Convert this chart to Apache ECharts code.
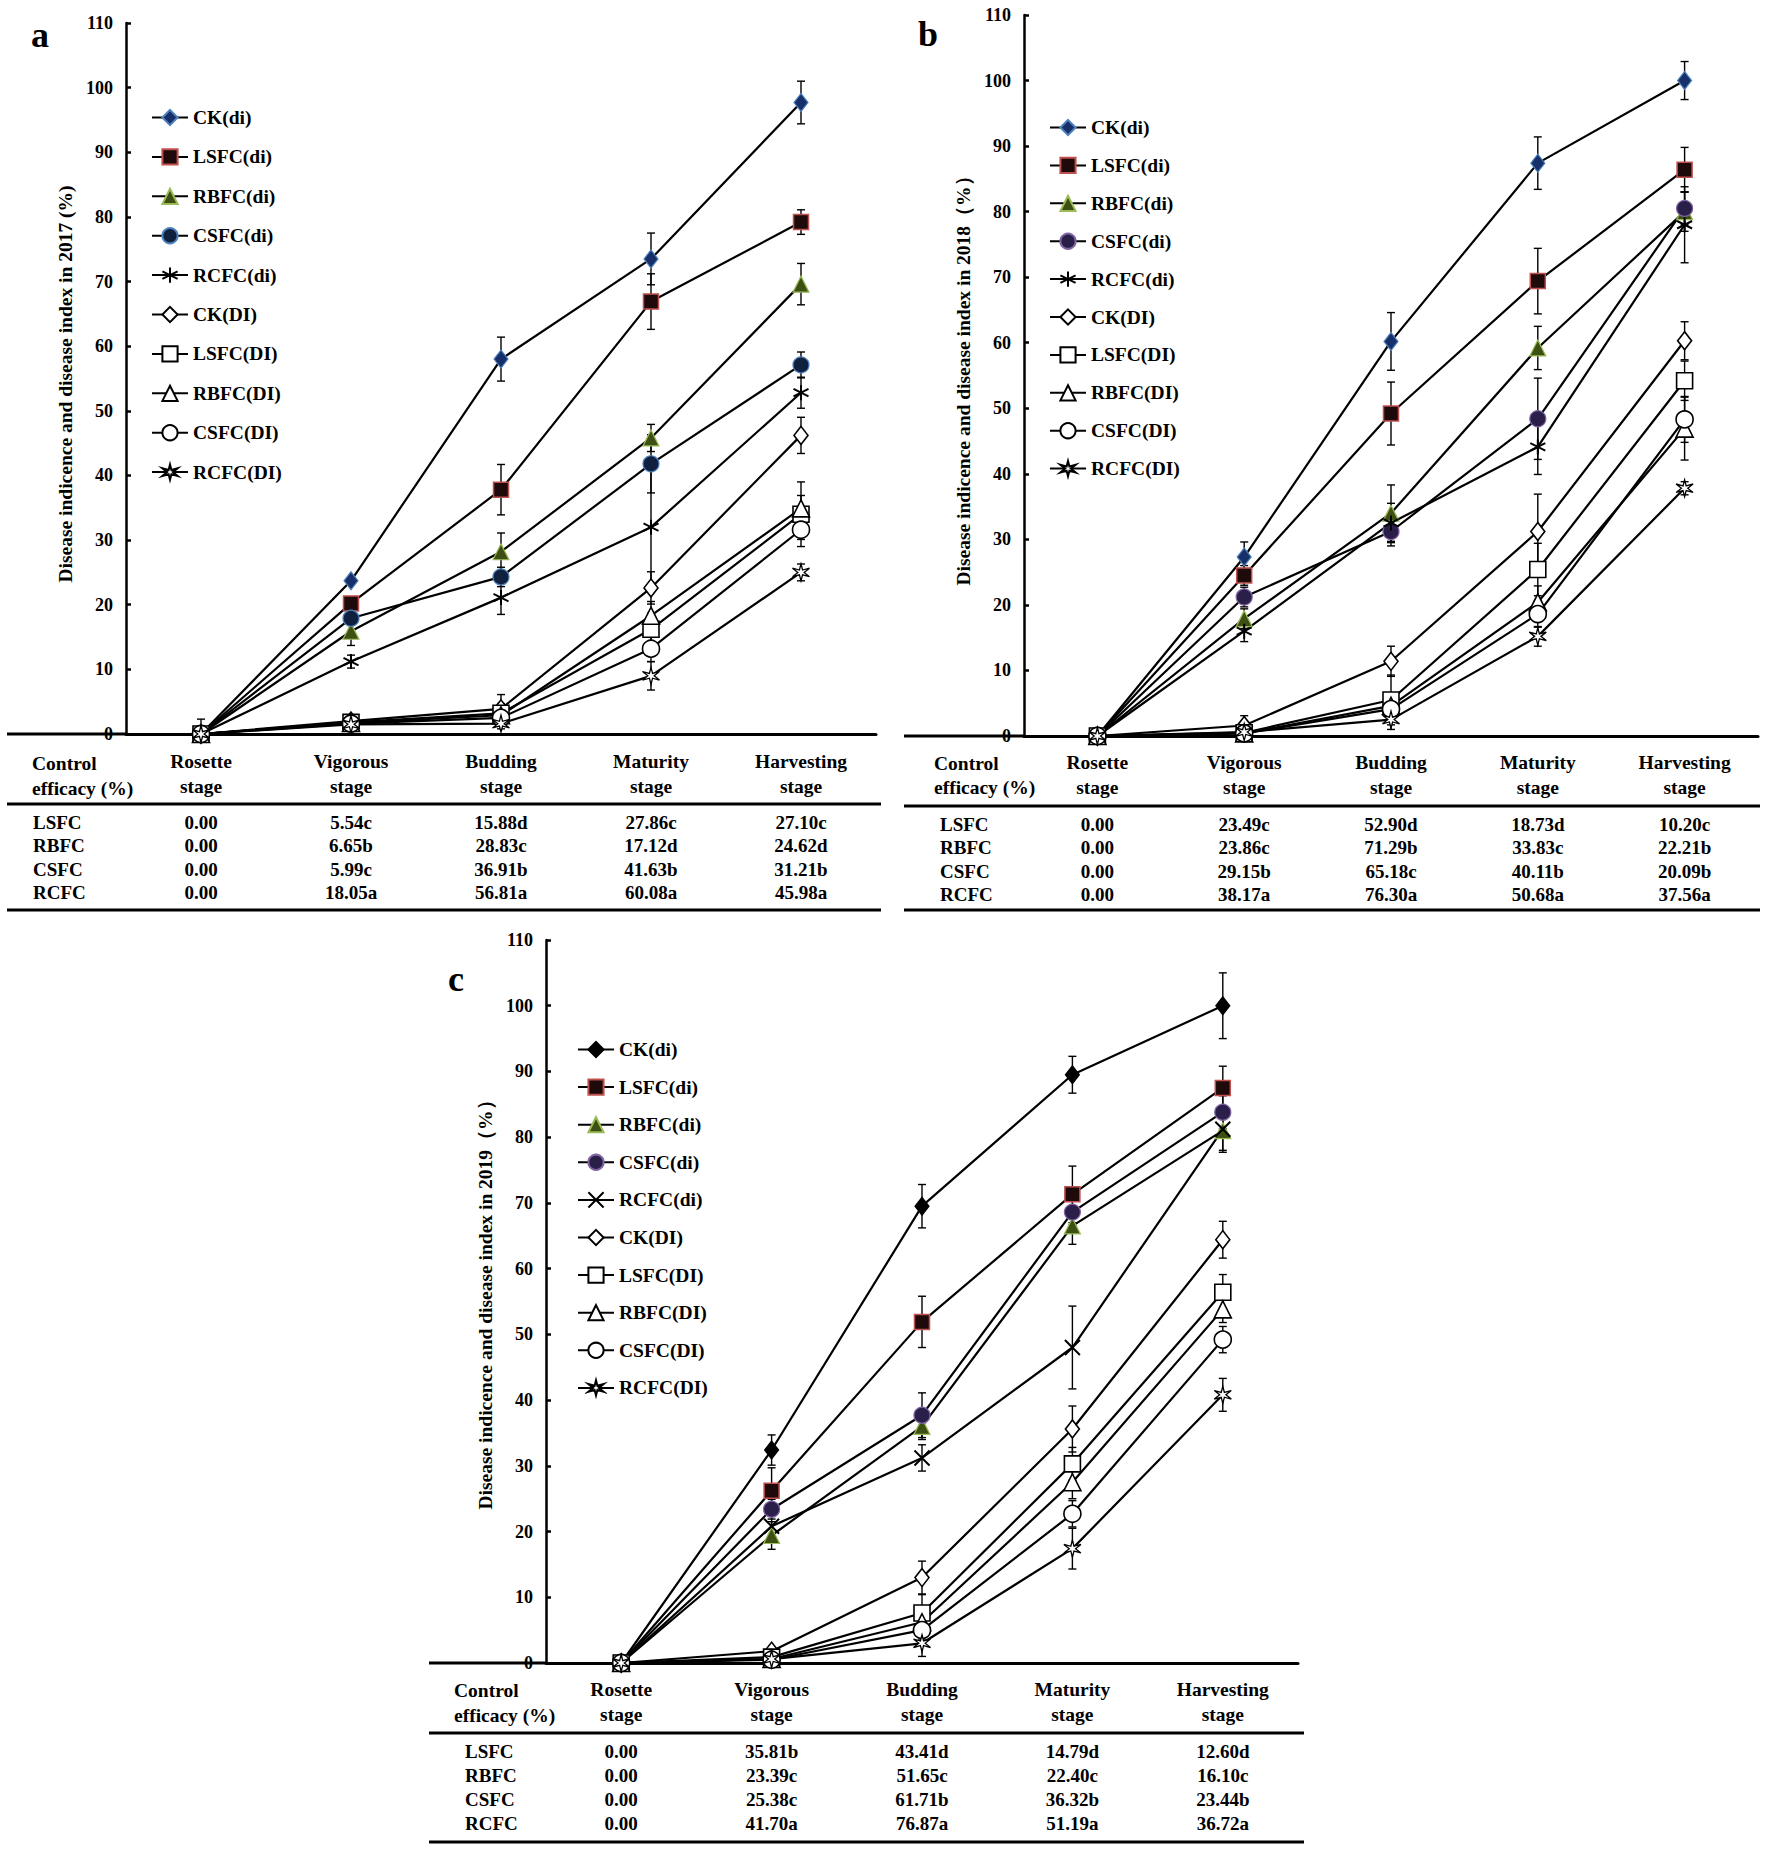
<!DOCTYPE html>
<html><head><meta charset="utf-8">
<script src="https://cdn.jsdelivr.net/npm/echarts@6.0.0/dist/echarts.min.js"></script>
<style>html,body{margin:0;padding:0;background:#fff}#chart{width:1770px;height:1849px}</style>
</head><body><div id="chart"></div>
<script>
// ---------------- data ----------------
const stages = ['Rosette\nstage', 'Vigorous\nstage', 'Budding\nstage', 'Maturity\nstage', 'Harvesting\nstage'];
const seriesNames = ['CK(di)', 'LSFC(di)', 'RBFC(di)', 'CSFC(di)', 'RCFC(di)', 'CK(DI)', 'LSFC(DI)', 'RBFC(DI)', 'CSFC(DI)', 'RCFC(DI)'];
const yMin = 0, yMax = 110, yStep = 10;

const values2017 = [
  [0, 23.7, 58.0, 73.5, 97.7],
  [0, 20.2, 37.8, 66.9, 79.2],
  [0, 15.9, 28.2, 45.8, 69.6],
  [0, 17.9, 24.3, 41.8, 57.1],
  [0, 11.2, 21.1, 32.0, 52.8],
  [0, 2.0, 3.9, 22.6, 46.2],
  [0, 1.8, 3.2, 16.2, 34.0],
  [0, 1.7, 2.9, 18.3, 34.9],
  [0, 1.6, 2.5, 13.2, 31.6],
  [0, 1.5, 1.6, 9.0, 25.0]
];
const errors2017 = [
  [0, 0.6, 3.4, 4.0, 3.3],
  [0, 0.8, 3.9, 4.3, 1.9],
  [0, 2.2, 2.9, 2.1, 3.2],
  [0, 1.0, 1.5, 4.5, 2.0],
  [0, 1.0, 2.6, 9.5, 2.4],
  [2.3, 0.5, 2.2, 2.5, 2.8],
  [0, 0.5, 1.5, 2.5, 5.0],
  [0, 0.4, 1.2, 2.2, 2.0],
  [0, 0.4, 1.0, 2.0, 1.5],
  [0, 0.4, 0.8, 2.2, 1.3]
];
const values2018 = [
  [0, 27.3, 60.2, 87.4, 100.0],
  [0, 24.5, 49.2, 69.4, 86.4],
  [0, 17.9, 34.0, 59.2, 80.0],
  [0, 21.2, 31.2, 48.4, 80.5],
  [0, 16.0, 32.5, 44.1, 78.0],
  [0, 1.6, 11.4, 31.2, 60.3],
  [0, 0.5, 5.5, 25.4, 54.2],
  [0, 0.4, 4.6, 20.4, 46.9],
  [0, 0.4, 4.1, 18.6, 48.3],
  [0, 0.6, 2.5, 15.2, 37.8]
];
const errors2018 = [
  [0, 2.3, 4.4, 4.0, 2.9],
  [0, 1.5, 4.8, 5.0, 3.4],
  [0, 1.5, 4.3, 3.3, 3.0],
  [0, 1.5, 2.2, 6.2, 2.5],
  [0, 1.6, 3.0, 4.2, 5.8],
  [0, 1.5, 2.3, 5.7, 2.9],
  [0, 0.5, 3.8, 4.0, 3.0],
  [0, 0.5, 2.0, 2.5, 4.8],
  [0, 0.5, 1.5, 2.0, 3.5],
  [0, 0.5, 1.5, 1.5, 1.0]
];
const values2019 = [
  [0, 32.4, 69.5, 89.5, 100.0],
  [0, 26.2, 51.9, 71.3, 87.5],
  [0, 19.4, 36.0, 66.5, 81.0],
  [0, 23.4, 37.7, 68.6, 83.8],
  [0, 20.8, 31.2, 48.0, 81.2],
  [0, 1.8, 13.0, 35.6, 64.4],
  [0, 0.9, 7.6, 30.3, 56.4],
  [0, 0.6, 6.2, 27.5, 53.8],
  [0, 0.5, 5.0, 22.7, 49.2],
  [0, 0.6, 3.0, 17.4, 40.8]
];
const errors2019 = [
  [0, 2.3, 3.3, 2.8, 5.0],
  [0, 3.5, 3.9, 4.3, 3.3],
  [0, 2.1, 2.0, 2.8, 3.0],
  [0, 1.5, 3.4, 2.0, 2.5],
  [0, 1.5, 2.0, 6.3, 3.5],
  [0, 0.5, 2.5, 3.5, 2.8],
  [0, 0.4, 2.8, 2.5, 2.7],
  [0, 0.3, 2.0, 2.5, 2.0],
  [0, 0.3, 1.5, 2.0, 2.0],
  [0, 0.4, 2.0, 3.1, 2.5]
];

const efficacyHeader = ['Control', 'efficacy (%)'];
const efficacyRows = ['LSFC', 'RBFC', 'CSFC', 'RCFC'];
const efficacy2017 = [
  ['0.00', '5.54c', '15.88d', '27.86c', '27.10c'],
  ['0.00', '6.65b', '28.83c', '17.12d', '24.62d'],
  ['0.00', '5.99c', '36.91b', '41.63b', '31.21b'],
  ['0.00', '18.05a', '56.81a', '60.08a', '45.98a']
];
const efficacy2018 = [
  ['0.00', '23.49c', '52.90d', '18.73d', '10.20c'],
  ['0.00', '23.86c', '71.29b', '33.83c', '22.21b'],
  ['0.00', '29.15b', '65.18c', '40.11b', '20.09b'],
  ['0.00', '38.17a', '76.30a', '50.68a', '37.56a']
];
const efficacy2019 = [
  ['0.00', '35.81b', '43.41d', '14.79d', '12.60d'],
  ['0.00', '23.39c', '51.65c', '22.40c', '16.10c'],
  ['0.00', '25.38c', '61.71b', '36.32b', '23.44b'],
  ['0.00', '41.70a', '76.87a', '51.19a', '36.72a']
];
const yTitles = [
  'Disease indicence and disease index in 2017 (%)',
  'Disease indicence and disease index in 2018\uFF08%\uFF09',
  'Disease indicence and disease index in 2019\uFF08%\uFF09'
];
const panelLetters = ['a', 'b', 'c'];

// ---------------- styles / layout ----------------
const FONT = '"Liberation Serif","Times New Roman",serif';
const TXT = 19.5;
const ASTER = 'path://M5,0L5,10M0.7,2.5L9.3,7.5M0.7,7.5L9.3,2.5';
const XMARK = 'path://M0,0L10,10M0,10L10,0';
const STAR = 'path://M5,0L5.8,3.6L9.3,2.5L6.6,5L9.3,7.5L5.8,6.4L5,10L4.2,6.4L0.7,7.5L3.4,5L0.7,2.5L4.2,3.6Z';

function markerStyles(p) {
  const ck = p === 2 ? ['#000', '#000'] : ['#17306a', '#4F81BD'];
  const cs = p === 0 ? ['#10213F', '#4F81BD'] : ['#2a1f48', '#8064A2'];
  return [
    { symbol: 'diamond', size: [14, 18], fill: ck[0], border: ck[1], bw: 1.2 },
    { symbol: 'rect', size: 15, fill: '#1e0a0a', border: '#C0504D', bw: 1.5 },
    { symbol: 'triangle', size: 16, fill: '#3E4F14', border: '#9BBB59', bw: 1.2 },
    { symbol: 'circle', size: 16, fill: cs[0], border: cs[1], bw: 1.2 },
    { symbol: p === 2 ? XMARK : ASTER, size: 15, fill: '#000', border: '#000', bw: 2 },
    { symbol: 'diamond', size: [14, 18], fill: '#fff', border: '#000', bw: 1.6 },
    { symbol: 'rect', size: 16, fill: '#fff', border: '#000', bw: 1.6 },
    { symbol: 'triangle', size: 17, fill: '#fff', border: '#000', bw: 1.6 },
    { symbol: 'circle', size: 17, fill: '#fff', border: '#000', bw: 1.6 },
    { symbol: STAR, size: 17, fill: '#fff', border: '#000', bw: 1.3 }
  ];
}

const panels = [
  { values: values2017, errors: errors2017, eff: efficacy2017,
    grid: { left: 126, top: 23, width: 750, height: 711 },
    letter: [40, 34.5], title: [65, 384],
    legend: { left: 151, top: 107.5, gap: 19.4 }, labelMargin: 15,
    table: { x0: 7, x1: 881, ctrlX: 32, rowX: 33, hdrY: [763, 788], thick: 804, rows: [822, 845.5, 869, 892], bottom: 910 } },
  { values: values2018, errors: errors2018, eff: efficacy2018,
    grid: { left: 1024, top: 15, width: 734, height: 721 },
    letter: [928, 33.5], title: [963, 376],
    legend: { left: 1049, top: 117.5, gap: 17.9 }, labelMargin: 14,
    table: { x0: 904, x1: 1760, ctrlX: 934, rowX: 940, hdrY: [763, 787], thick: 806, rows: [824.5, 847.5, 871, 894.5], bottom: 910 } },
  { values: values2019, errors: errors2019, eff: efficacy2019,
    grid: { left: 546, top: 940, width: 752, height: 723 },
    letter: [456, 978.5], title: [485, 1300],
    legend: { left: 577, top: 1039.5, gap: 17.6 }, labelMargin: 14,
    table: { x0: 429, x1: 1304, ctrlX: 454, rowX: 465, hdrY: [1690, 1715], thick: 1733, rows: [1751, 1775.5, 1799.5, 1823.5], bottom: 1842 } }
];

function renderErr(params, api) {
  const x = api.value(0);
  const lo = api.coord([x, api.value(1)]);
  const hi = api.coord([x, api.value(2)]);
  const w = 4;
  const st = { stroke: '#000', lineWidth: 1.4 };
  return { type: 'group', children: [
    { type: 'line', shape: { x1: lo[0], y1: lo[1], x2: hi[0], y2: hi[1] }, style: st },
    { type: 'line', shape: { x1: hi[0] - w, y1: hi[1], x2: hi[0] + w, y2: hi[1] }, style: st },
    { type: 'line', shape: { x1: lo[0] - w, y1: lo[1], x2: lo[0] + w, y2: lo[1] }, style: st }
  ] };
}

const option = { animation: false, backgroundColor: '#fff', grid: [], xAxis: [], yAxis: [], legend: [], series: [] };

panels.forEach((P, k) => {
  option.grid.push(Object.assign({ containLabel: false }, P.grid));
  option.xAxis.push({
    type: 'category', gridIndex: k, data: stages, boundaryGap: true,
    axisLine: { lineStyle: { color: '#000', width: 3 } },
    axisTick: { inside: true, length: 6, lineStyle: { color: '#000', width: 2 } },
    axisLabel: { interval: 0, fontSize: TXT, lineHeight: 25, margin: P.labelMargin, fontFamily: FONT, fontWeight: 'bold', color: '#000' },
    splitLine: { show: false }
  });
  option.yAxis.push({
    type: 'value', gridIndex: k, min: yMin, max: yMax, interval: yStep,
    axisLine: { show: true, lineStyle: { color: '#000', width: 2.5 } },
    axisTick: { show: true, inside: true, length: 5, lineStyle: { color: '#000', width: 2.5 } },
    axisLabel: { fontSize: 18, margin: 13, fontFamily: FONT, fontWeight: 'bold', color: '#000' },
    splitLine: { show: false }
  });
  const ms = markerStyles(k);
  const legendNames = [];
  const errData = [];
  seriesNames.forEach((nm, s) => {
    const full = panelLetters[k] + '|' + nm;
    legendNames.push(full);
    const m = ms[s];
    option.series.push({
      type: 'line', name: full, xAxisIndex: k, yAxisIndex: k, z: 3,
      data: P.values[s],
      symbol: m.symbol, symbolSize: m.size, showAllSymbol: true,
      lineStyle: { color: '#000', width: 2.2 },
      itemStyle: { color: m.fill, borderColor: m.border, borderWidth: m.bw },
      emphasis: { disabled: true }, silent: true
    });
    P.values[s].forEach((v, i) => {
      const e = P.errors[s][i];
      if (e > 0) errData.push([i, Math.max(0, v - e), v + e]);
    });
  });
  option.series.push({
    type: 'custom', name: 'err' + k, xAxisIndex: k, yAxisIndex: k, z: 2,
    renderItem: renderErr, data: errData, encode: { x: 0, y: [1, 2] }, silent: true
  });
  option.legend.push({
    orient: 'vertical', left: P.legend.left, top: P.legend.top, itemGap: P.legend.gap,
    itemWidth: 36, itemHeight: 19, padding: 0, selectedMode: false,
    data: legendNames, formatter: n => n.split('|')[1],
    textStyle: { fontSize: TXT, fontFamily: FONT, fontWeight: 'bold', color: '#000' }
  });
});

const chart = echarts.init(document.getElementById('chart'), null, { renderer: 'svg', width: 1770, height: 1849 });
chart.setOption(option);

// ---------------- table & annotations ----------------
const graphics = [];
function txt(x, y, text, size, align, extra) {
  return Object.assign({ type: 'text', x: x, y: y, style: { text: text, fontSize: size, fontFamily: FONT, fontWeight: 'bold', align: align, verticalAlign: 'middle', fill: '#000' } }, extra || {});
}
panels.forEach((P, k) => {
  const T = P.table;
  const y0 = chart.convertToPixel({ yAxisIndex: k }, 0);
  graphics.push({ type: 'line', shape: { x1: T.x0, y1: y0, x2: P.grid.left, y2: y0 }, style: { stroke: '#000', lineWidth: 3 } });
  graphics.push({ type: 'line', shape: { x1: T.x0, y1: T.thick, x2: T.x1, y2: T.thick }, style: { stroke: '#000', lineWidth: 3 } });
  graphics.push({ type: 'line', shape: { x1: T.x0, y1: T.bottom, x2: T.x1, y2: T.bottom }, style: { stroke: '#000', lineWidth: 3 } });
  efficacyHeader.forEach((h, j) => graphics.push(txt(T.ctrlX, T.hdrY[j], h, TXT, 'left')));
  efficacyRows.forEach((r, j) => {
    graphics.push(txt(T.rowX, T.rows[j], r, 19, 'left'));
    P.eff[j].forEach((v, i) => {
      const cx = chart.convertToPixel({ xAxisIndex: k }, i);
      graphics.push(txt(cx, T.rows[j], v, 19, 'center'));
    });
  });
  graphics.push(txt(P.letter[0], P.letter[1], panelLetters[k], 36, 'center'));
  graphics.push(txt(P.title[0], P.title[1], yTitles[k], 19.5, 'center', { rotation: Math.PI / 2 }));
});
chart.setOption({ graphic: graphics });
</script>
</body></html>
